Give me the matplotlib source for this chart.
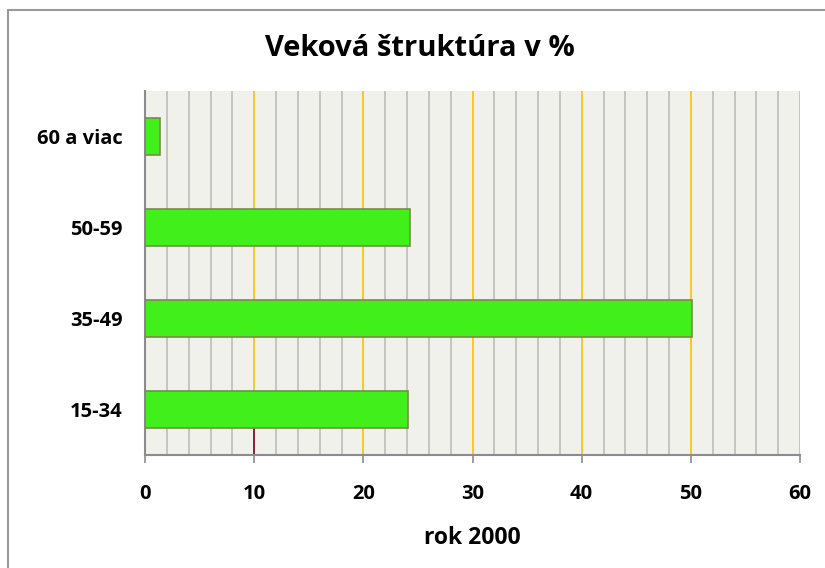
import matplotlib
matplotlib.use("Agg")
import matplotlib.pyplot as plt
from matplotlib.patches import Rectangle

# data
categories = ["15-34", "35-49", "50-59", "60 a viac"]
values = [24.1, 50.1, 24.3, 1.4]
x_ticks = [0, 10, 20, 30, 40, 50, 60]

plt.rcParams['font.family'] = ['Open Sans', 'DejaVu Sans']

fig = plt.figure(figsize=(8.25, 5.68), dpi=100)
ax = fig.add_axes([145/825, 1 - 455/568, 655/825, 364/568])

# outer chart frame
fig.patches.append(Rectangle((8/825, -0.1), 1.2, (568 - 10)/568 + 0.1,
                             transform=fig.transFigure, fill=False,
                             edgecolor='#9a9a9a', linewidth=1.5))

ax.set_facecolor('#eff1ea')
ax.set_xlim(0, 60)
ax.set_ylim(-0.5, 3.5)

# minor grid every 2, major every 10
for x in range(2, 60, 2):
    if x % 10:
        ax.axvline(x, color='#bdbdbd', linewidth=1.2, zorder=1)
for x in x_ticks[1:]:
    ax.axvline(x, color='#ffc000', linewidth=1.2, zorder=1)
# odd dark segment on the 10 line below the lowest bar
ax.plot([10, 10], [-0.5, -0.2], color='#800040', linewidth=1.2, zorder=2)

ax.barh(range(len(categories)), values, height=0.4, color='#41f01a',
        edgecolor='#7a8a4a', linewidth=1.2, zorder=3)

ax.set_yticks(range(len(categories)))
ax.set_yticklabels(categories, fontsize=14.5, fontweight='bold')
ax.set_xticks(x_ticks)
ax.set_xticklabels([str(t) for t in x_ticks], fontsize=14.5, fontweight='bold')
ax.tick_params(axis='y', length=0, pad=16)
ax.tick_params(axis='x', length=6, width=1.2, color='#8c8c8c', pad=15)

for s in ['top', 'right']:
    ax.spines[s].set_visible(False)
for s in ['left', 'bottom']:
    ax.spines[s].set_color('#8c8c8c')
    ax.spines[s].set_linewidth(1.5)

ax.set_xlabel('rok 2000', fontsize=16.5, fontweight='bold', labelpad=16)
fig.text(420/825, 1 - 49/568, 'Veková štruktúra v %', ha='center', va='center',
         fontsize=21, fontweight='bold')

fig.savefig('out.png', dpi=100)
